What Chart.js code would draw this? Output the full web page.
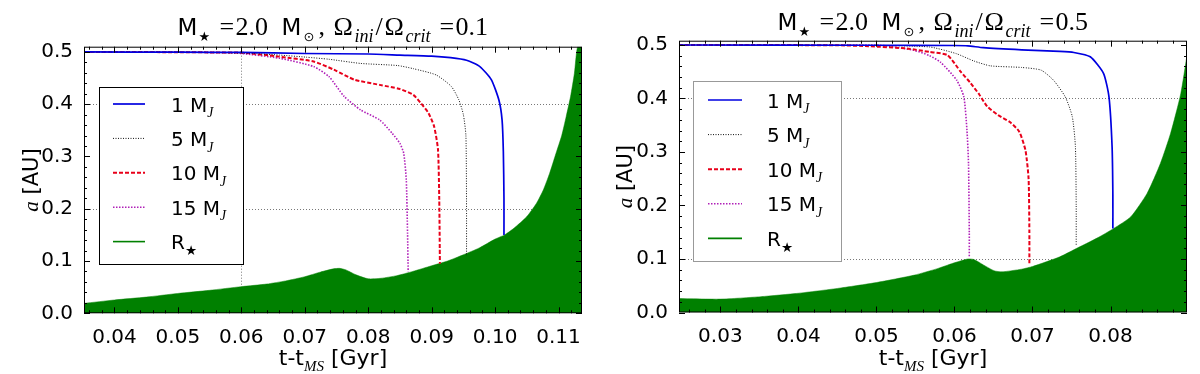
<!DOCTYPE html>
<html>
<head>
<meta charset="utf-8">
<script src="https://cdn.jsdelivr.net/npm/chart.js@4.4.1/dist/chart.umd.min.js"></script>
<style>
  html, body { margin: 0; padding: 0; background: #fff; }
  #wrap { display: flex; width: 1200px; height: 374px; }
  canvas { display: block; }
</style>
</head>
<body>
<div id="wrap">
  <canvas id="left" width="600" height="374"></canvas>
  <canvas id="right" width="600" height="374"></canvas>
</div>
<script>
// ---- shared
const yTicks = [0.0, 0.1, 0.2, 0.3, 0.4, 0.5];
const planetMasses = ["1", "5", "10", "15"];

// ---- left panel, Omega_ini/Omega_crit = 0.1
const xTicksL = [0.04, 0.05, 0.06, 0.07, 0.08, 0.09, 0.10, 0.11];
const starTL = [0.0352, 0.04, 0.045, 0.05, 0.055, 0.06, 0.064, 0.067, 0.07, 0.0725, 0.0745, 0.0755, 0.0765, 0.078, 0.08, 0.082, 0.0845, 0.087, 0.09, 0.0925, 0.095, 0.0975, 0.1, 0.1015, 0.103, 0.105, 0.1065, 0.1076, 0.1086, 0.1096, 0.1105, 0.1112, 0.1119, 0.1125, 0.113, 0.1137];
const starAL = [0.019, 0.0255, 0.031, 0.038, 0.044, 0.051, 0.056, 0.062, 0.070, 0.079, 0.085, 0.086, 0.083, 0.074, 0.066, 0.067, 0.072, 0.080, 0.091, 0.100, 0.112, 0.125, 0.142, 0.150, 0.163, 0.185, 0.210, 0.236, 0.268, 0.306, 0.340, 0.376, 0.415, 0.459, 0.51, 0.51];
const m1TL = [0.0352, 0.05, 0.06, 0.07, 0.08, 0.085, 0.09, 0.093, 0.0955, 0.0976, 0.0994, 0.1006, 0.1011, 0.1013, 0.1014, 0.1014];
const m1AL = [0.5, 0.4995, 0.499, 0.497, 0.496, 0.494, 0.492, 0.489, 0.484, 0.472, 0.447, 0.408, 0.37, 0.31, 0.22, 0.15];
const m5TL = [0.0352, 0.055, 0.062, 0.066, 0.0702, 0.0738, 0.0788, 0.0846, 0.0871, 0.0907, 0.0931, 0.0943, 0.095, 0.0954, 0.0955, 0.0955];
const m5AL = [0.5, 0.499, 0.497, 0.494, 0.490, 0.486, 0.478, 0.474, 0.468, 0.456, 0.434, 0.408, 0.38, 0.34, 0.2, 0.11];
const m10TL = [0.0352, 0.05, 0.056, 0.0602, 0.066, 0.0714, 0.0746, 0.0778, 0.0818, 0.085, 0.0871, 0.0883, 0.0895, 0.0904, 0.091, 0.0912, 0.0913];
const m10AL = [0.5, 0.4995, 0.499, 0.4985, 0.491, 0.4816, 0.466, 0.447, 0.437, 0.429, 0.418, 0.402, 0.383, 0.357, 0.313, 0.217, 0.095];
const m15TL = [0.0352, 0.05, 0.056, 0.06, 0.066, 0.0714, 0.0738, 0.0762, 0.0788, 0.0818, 0.0838, 0.085, 0.0856, 0.086, 0.0862, 0.0863];
const m15AL = [0.5, 0.4995, 0.499, 0.497, 0.488, 0.472, 0.453, 0.415, 0.389, 0.37, 0.344, 0.325, 0.306, 0.255, 0.153, 0.08];

// ---- right panel, Omega_ini/Omega_crit = 0.5
const xTicksR = [0.03, 0.04, 0.05, 0.06, 0.07, 0.08];
const starTR = [0.0247, 0.03, 0.0352, 0.04, 0.045, 0.05, 0.0549, 0.0578, 0.0598, 0.0617, 0.0625, 0.0637, 0.0651, 0.0661, 0.0686, 0.07, 0.0735, 0.0754, 0.0784, 0.0804, 0.0826, 0.0847, 0.0864, 0.0877, 0.089, 0.0898];
const starAR = [0.026, 0.025, 0.0296, 0.036, 0.045, 0.056, 0.07, 0.082, 0.092, 0.100, 0.099, 0.089, 0.078, 0.076, 0.081, 0.086, 0.104, 0.118, 0.14, 0.157, 0.179, 0.223, 0.279, 0.335, 0.409, 0.481];
const m1TR = [0.0247, 0.05, 0.06, 0.0617, 0.0637, 0.0686, 0.0735, 0.0753, 0.0774, 0.0791, 0.0798, 0.0802, 0.0803, 0.0803];
const m1AR = [0.5, 0.4995, 0.499, 0.4985, 0.495, 0.491, 0.488, 0.486, 0.478, 0.447, 0.403, 0.31, 0.22, 0.157];
const m5TR = [0.0247, 0.05, 0.0568, 0.0602, 0.0625, 0.0646, 0.0686, 0.0711, 0.0727, 0.0742, 0.0751, 0.0755, 0.0756, 0.0756];
const m5AR = [0.5, 0.499, 0.4963, 0.484, 0.47, 0.461, 0.458, 0.453, 0.434, 0.403, 0.366, 0.31, 0.2, 0.125];
const m10TR = [0.0247, 0.045, 0.049, 0.0539, 0.0568, 0.0591, 0.0608, 0.062, 0.0632, 0.0642, 0.0656, 0.0671, 0.0683, 0.0691, 0.0695, 0.0696, 0.0696];
const m10AR = [0.5, 0.4995, 0.4977, 0.4934, 0.487, 0.481, 0.45, 0.43, 0.407, 0.385, 0.369, 0.356, 0.338, 0.303, 0.25, 0.15, 0.092];
const m15TR = [0.0247, 0.045, 0.0505, 0.0548, 0.0568, 0.0582, 0.0603, 0.0612, 0.0616, 0.0618, 0.0619, 0.0619];
const m15AR = [0.5, 0.4995, 0.4995, 0.49, 0.48, 0.468, 0.434, 0.403, 0.341, 0.279, 0.15, 0.104];

// line looks
const styles = [
  { color: "#0000e0", width: 1.7, dash: [] },
  { color: "#111111", width: 1.0, dash: [1, 1.5] },
  { color: "#e8001a", width: 2.0, dash: [4, 2] },
  { color: "#b020b8", width: 1.6, dash: [1.5, 1.5] }
];
const starColor = "#008000";

const SANS = "DejaVu Sans";
const SERIF = "Liberation Serif";
const fSans = s => s + "px '" + SANS + "'";
const fSerif = s => s + "px '" + SERIF + "'";
const fItal = s => "italic " + s + "px '" + SERIF + "'";

function fontOf(p, size) {
  const s = p.sub ? size * 0.68 : size;
  const fam = p.f === "serif" ? SERIF : SANS;
  return (p.it ? "italic " : "") + s.toFixed(1) + "px '" + fam + "'";
}

function richWidth(ctx, parts, size) {
  let w = 0;
  parts.forEach(p => { ctx.font = fontOf(p, size); w += ctx.measureText(p.t).width; });
  return w;
}

function drawRich(ctx, parts, x, y, size) {
  ctx.textAlign = "left";
  ctx.textBaseline = "alphabetic";
  parts.forEach(p => {
    ctx.font = fontOf(p, size);
    ctx.fillText(p.t, x, p.sub ? y + size * 0.28 : y);
    x += ctx.measureText(p.t).width;
  });
}

// title pieces with their offset from the start of the title (math typeset look)
function titleParts(omega) {
  return [
    { t: "M", font: fSans(23), dx: 0, dy: 0 },
    { t: "\u2605", font: fSans(13), dx: 21, dy: 6 },
    { t: "=", font: fSerif(26), dx: 42, dy: 0 },
    { t: "2.0", font: fSerif(26), dx: 58, dy: 0 },
    { t: "M", font: fSans(23), dx: 104, dy: 0 },
    { t: "\u2299", font: fSans(13), dx: 126, dy: 6 },
    { t: ",", font: fSerif(26), dx: 141, dy: 0 },
    { t: "\u03A9", font: fSerif(26), dx: 156, dy: 0 },
    { t: "ini", font: fItal(18), dx: 177, dy: 7 },
    { t: "/", font: fSerif(26), dx: 198, dy: 0 },
    { t: "\u03A9", font: fSerif(26), dx: 207, dy: 0 },
    { t: "crit", font: fItal(18), dx: 228, dy: 7 },
    { t: "=", font: fSerif(26), dx: 262, dy: 0 },
    { t: omega, font: fSerif(26), dx: 278, dy: 0 }
  ];
}
const titleWidth = 311;

function hline(ctx, x1, y1, x2, y2) {
  ctx.beginPath(); ctx.moveTo(x1, y1); ctx.lineTo(x2, y2); ctx.stroke();
}

function makeDecor(cfg) {
  return {
    id: "decor",
    beforeDatasetsDraw(chart) {
      const { ctx, chartArea: ca, scales: { x, y } } = chart;
      ctx.save();
      ctx.strokeStyle = "#555"; ctx.lineWidth = 0.8; ctx.setLineDash([1, 2]);
      cfg.gridY.forEach(v => { const py = Math.round(y.getPixelForValue(v)) + 0.5; hline(ctx, ca.left, py, ca.right, py); });
      cfg.gridX.forEach(v => { const px = Math.round(x.getPixelForValue(v)) + 0.5; hline(ctx, px, ca.top, px, ca.bottom); });
      ctx.restore();
    },
    afterDatasetsDraw(chart) {
      const { ctx, chartArea: ca, scales: { x, y } } = chart;
      ctx.save();
      ctx.strokeStyle = "#000"; ctx.lineWidth = 1;
      ctx.strokeRect(ca.left + 0.5, ca.top + 0.5, ca.right - ca.left - 1, ca.bottom - ca.top - 1);
      // inward ticks on all four sides
      const tick = (v, len, axis) => {
        if (axis === "x") {
          const px = Math.round(x.getPixelForValue(v)) + 0.5;
          hline(ctx, px, ca.bottom, px, ca.bottom - len);
          hline(ctx, px, ca.top, px, ca.top + len);
        } else {
          const py = Math.round(y.getPixelForValue(v)) + 0.5;
          hline(ctx, ca.left, py, ca.left + len, py);
          hline(ctx, ca.right, py, ca.right - len, py);
        }
      };
      cfg.xTicks.forEach(v => tick(v, 6, "x"));
      yTicks.forEach(v => tick(v, 6, "y"));
      for (let v = Math.ceil(cfg.xMin / 0.002) * 0.002; v < cfg.xMax; v += 0.002) {
        if (Math.abs(v / 0.01 - Math.round(v / 0.01)) > 0.05) tick(v, 3, "x");
      }
      for (let v = 0.02; v < 0.51; v += 0.02) {
        if (Math.abs(v / 0.1 - Math.round(v / 0.1)) > 0.05) tick(v, 3, "y");
      }
      ctx.restore();
    },
    afterDraw(chart) {
      const { ctx, chartArea: ca } = chart;
      const cx = (ca.left + ca.right) / 2;
      ctx.save();
      ctx.fillStyle = "#000";
      ctx.textAlign = "left";
      ctx.textBaseline = "alphabetic";
      // title
      const tx = cx - titleWidth / 2;
      titleParts(cfg.omega).forEach(p => {
        ctx.font = p.font;
        ctx.fillText(p.t, tx + p.dx, cfg.titleY + p.dy);
      });
      // x axis title
      const xt = [{ t: "t-t" }, { t: "MS", sub: 1, it: 1, f: "serif" }, { t: " [Gyr]" }];
      drawRich(ctx, xt, cx - richWidth(ctx, xt, 22) / 2, 365, 22);
      // y axis title
      const yt = [{ t: "a", it: 1, f: "serif" }, { t: " [AU]" }];
      ctx.save();
      ctx.translate(cfg.yTitleX, (ca.top + ca.bottom) / 2);
      ctx.rotate(-Math.PI / 2);
      drawRich(ctx, yt, -richWidth(ctx, yt, 21) / 2, 0, 21);
      ctx.restore();
      // legend
      const L = cfg.legend;
      ctx.fillStyle = "#fff";
      ctx.fillRect(L.x, L.y, L.w, L.h);
      ctx.strokeStyle = L.border; ctx.lineWidth = 1;
      ctx.strokeRect(L.x + 0.5, L.y + 0.5, L.w, L.h);
      const entries = planetMasses.map((m, i) => ({ st: styles[i], parts: [{ t: m + " M" }, { t: "J", sub: 1, it: 1, f: "serif" }] }));
      entries.push({ st: { color: starColor, width: 1.6, dash: [] }, parts: [{ t: "R" }, { t: "\u2605", sub: 1 }] });
      entries.forEach((e, i) => {
        const ry = L.row0 + i * L.step;
        ctx.strokeStyle = e.st.color; ctx.lineWidth = e.st.width; ctx.setLineDash(e.st.dash);
        hline(ctx, L.lineX0, ry, L.lineX1, ry);
        ctx.setLineDash([]);
        ctx.fillStyle = "#000";
        drawRich(ctx, e.parts, L.textX, ry + 7.5, 20);
      });
      ctx.restore();
    }
  };
}

function makeChart(id, cfg) {
  const datasets = cfg.series.map((s, i) => ({
    data: s[0].map((t, k) => ({ x: t, y: s[1][k] })),
    showLine: true, pointRadius: 0, fill: false, tension: 0.2,
    borderColor: styles[i].color, borderWidth: styles[i].width, borderDash: styles[i].dash
  }));
  datasets.push({
    data: cfg.star[0].map((t, k) => ({ x: t, y: cfg.star[1][k] })),
    showLine: true, pointRadius: 0, fill: "origin", tension: 0.2,
    borderColor: starColor, borderWidth: 0.5, backgroundColor: starColor
  });
  new Chart(document.getElementById(id), {
    type: "scatter",
    data: { datasets },
    options: {
      responsive: false, animation: false, devicePixelRatio: 1, events: [],
      layout: { padding: { top: cfg.top, right: cfg.right, left: 0, bottom: 0 } },
      plugins: { legend: { display: false }, tooltip: { enabled: false } },
      scales: {
        x: {
          type: "linear", min: cfg.xMin, max: cfg.xMax,
          grid: { display: false }, border: { display: false },
          afterFit: s => { s.height = cfg.xAxisH; },
          afterBuildTicks: s => { s.ticks = cfg.xTicks.map(v => ({ value: v })); },
          ticks: { color: "#000", padding: 4, maxRotation: 0, autoSkip: false, font: { family: "'DejaVu Sans'", size: 20 }, callback: v => v.toFixed(2) }
        },
        y: {
          type: "linear", min: 0, max: cfg.yMax,
          grid: { display: false }, border: { display: false },
          afterFit: s => { s.width = cfg.yAxisW; },
          afterBuildTicks: s => { s.ticks = yTicks.map(v => ({ value: v })); },
          ticks: { color: "#000", padding: 3, autoSkip: false, font: { family: "'DejaVu Sans'", size: 20 }, callback: v => v.toFixed(1) }
        }
      }
    },
    plugins: [makeDecor(cfg)]
  });
}

makeChart("left", {
  omega: "0.1", xMin: 0.0352, xMax: 0.1137, yMax: 0.51, xTicks: xTicksL,
  top: 46.7, right: 18, xAxisH: 60.7, yAxisW: 84, yTitleX: 38, titleY: 35,
  gridY: [0.2, 0.4], gridX: [0.06],
  series: [[m1TL, m1AL], [m5TL, m5AL], [m10TL, m10AL], [m15TL, m15AL]],
  star: [starTL, starAL],
  legend: { x: 99, y: 87, w: 144, h: 177, border: "#000", lineX0: 113, lineX1: 145, textX: 171, row0: 104, step: 34.4 }
});

makeChart("right", {
  omega: "0.5", xMin: 0.0247, xMax: 0.0898, yMax: 0.508, xTicks: xTicksR,
  top: 40.7, right: 13, xAxisH: 61.5, yAxisW: 79, yTitleX: 32, titleY: 29.5,
  gridY: [0.1, 0.4], gridX: [],
  series: [[m1TR, m1AR], [m5TR, m5AR], [m10TR, m10AR], [m15TR, m15AR]],
  star: [starTR, starAR],
  legend: { x: 93, y: 81, w: 148, h: 180, border: "#999", lineX0: 108, lineX1: 142, textX: 167, row0: 100, step: 34.6 }
});
</script>
</body>
</html>
